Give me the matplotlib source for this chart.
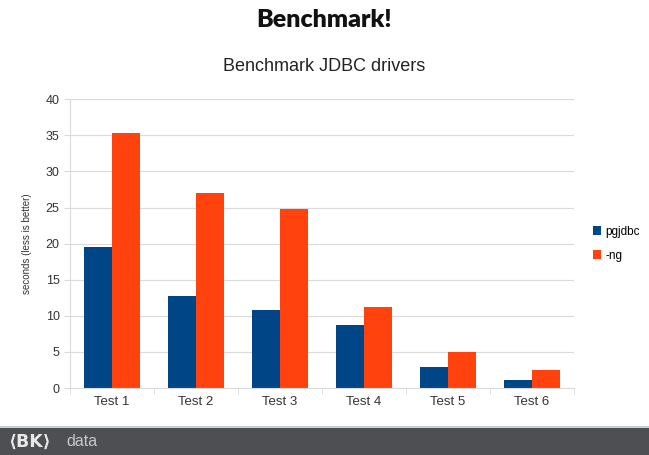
"""Benchmark chart: pgjdbc vs -ng."""
import matplotlib

matplotlib.use("Agg")
import matplotlib.pyplot as plt
import numpy as np
from matplotlib.patches import Rectangle

TESTS = ["Test 1", "Test 2", "Test 3", "Test 4", "Test 5", "Test 6"]
PGJDBC = [19.6, 12.7, 10.8, 8.7, 2.9, 1.1]
NG = [35.3, 27.0, 24.8, 11.2, 5.0, 2.5]
Y_TICKS = [0, 5, 10, 15, 20, 25, 30, 35, 40]

BLUE = "#004586"
ORANGE = "#FF420E"
GRID_COLOR = "#DADADA"
TEXT_COLOR = "#333333"

plt.rcParams.update({
    "font.family": ["Liberation Sans", "DejaVu Sans"],
    "font.size": 8,
})

fig = plt.figure(figsize=(6.49, 4.55), dpi=100)
fig.patch.set_facecolor("white")

ax = fig.add_axes([0.108, 0.147, 0.776, 0.635])
x = np.arange(len(TESTS))
w = 1 / 3
ax.bar(x - w / 2, PGJDBC, width=w, color=BLUE, label="pgjdbc", zorder=2)
ax.bar(x + w / 2, NG, width=w, color=ORANGE, label="-ng", zorder=2)

ax.set_xlim(-0.5, len(TESTS) - 0.5)
ax.set_ylim(0, 40)
ax.set_yticks(Y_TICKS)
ax.set_xticks(x)
ax.set_xticklabels(TESTS, fontsize=9.5, color=TEXT_COLOR)
ax.set_xticks(np.arange(len(TESTS) + 1) - 0.5, minor=True)
ax.tick_params(axis="x", which="major", length=0, pad=6)
ax.tick_params(axis="x", which="minor", length=4, color=GRID_COLOR)
ax.tick_params(axis="y", labelsize=9, colors=TEXT_COLOR, length=4, color=GRID_COLOR)
ax.grid(axis="y", color=GRID_COLOR, linewidth=0.8, zorder=1)
ax.set_axisbelow(True)
for side in ("top", "right"):
    ax.spines[side].set_visible(False)
for side in ("left", "bottom"):
    ax.spines[side].set_color(GRID_COLOR)
ax.set_ylabel("seconds (less is better)", fontsize=7, color=TEXT_COLOR, labelpad=10)

ax.legend(loc="center left", bbox_to_anchor=(1.0, 0.5), frameon=False,
          fontsize=8.5, handlelength=0.7, handleheight=0.7, handletextpad=0.4,
          labelspacing=1.0, borderaxespad=1.2)

fig.text(0.5, 0.955, "Benchmark!", ha="center", va="center", fontsize=18,
         fontweight="heavy", color="#111111", family=["Lato", "DejaVu Sans"])
fig.text(0.5, 0.853, "Benchmark JDBC drivers", ha="center", va="center",
         fontsize=13, color="#222222")

# footer band
fig.patches.append(Rectangle((0, 0), 1, 0.059, transform=fig.transFigure,
                             facecolor="#4D4F53", edgecolor="none", zorder=0))
fig.patches.append(Rectangle((0, 0.059), 1, 0.004, transform=fig.transFigure,
                             facecolor="#C9CED6", edgecolor="none", zorder=0))
fig.text(0.012, 0.029, "\u27E8BK\u27E9", ha="left", va="center", fontsize=12.5,
         fontweight="bold", color="#E8E8E8", family=["DejaVu Sans"])
fig.text(0.103, 0.029, "data", ha="left", va="center", fontsize=11.5,
         color="#C8C8C8")

fig.savefig("out.png", dpi=100)
